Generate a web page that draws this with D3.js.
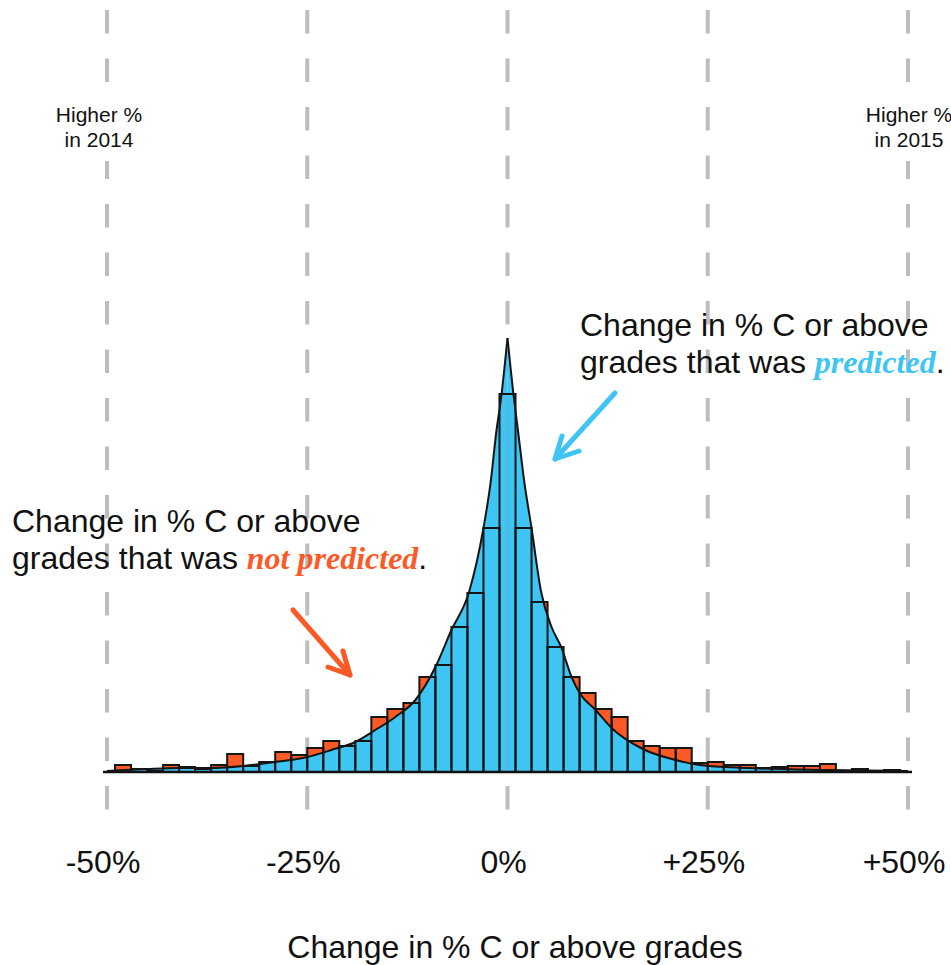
<!DOCTYPE html>
<html>
<head>
<meta charset="utf-8">
<script src="https://cdn.jsdelivr.net/npm/d3@7"></script>
<style>
  body { margin: 0; background: #fff; }
  svg { display: block; }
</style>
</head>
<body>
<script>
// bin centres (% change), 2-point wide bins
var binCenters = [-48,-46,-44,-42,-40,-38,-36,-34,-32,-30,-28,-26,-24,-22,-20,-18,-16,-14,-12,-10,
                  -8,-6,-4,-2,0,2,4,6,8,10,12,14,16,18,20,22,24,26,28,30,32,34,36,38,40,42,44,46,48];
// actual counts per bin
var actualCounts = [7,3,1,7,5,3,7,18,6,10,20,17,24,31,26,31,55,63,69,95,
                    107,145,179,244,378,244,170,125,95,79,63,55,31,26,24,24,9,10,7,7,4,5,6,6,8,1,3,0,2];
// predicted distribution (curve)
var curveX = [-50,-45,-41,-37,-33,-29,-25,-22,-19,-16.5,-14,-11.5,-9,-7,-4.8,-3,-2.1,-1.4,-0.8,0,
              0.8,1.3,2.1,3,4.2,5.5,6.7,8,9,11,13,16.9,21,24,30,40,50];
var curveY = [1,3,4,4,6,10,15,22,30,42,55,72,105,142,180,244,290,340,374,434,
              374,342,290,244,180,145,125,95,79,62,44,23,12,7,4,2,1];
var tickValues = [-50,-25,0,25,50];
var tickLabels = ["-50%","-25%","0%","+25%","+50%"];

var W = 951, H = 965;
var blue = "#3ec5f3", orange = "#fb5a27";
var sans = "'Liberation Sans', Arial, sans-serif";
var serif = "'Liberation Serif', 'Times New Roman', serif";

var svg = d3.select("body").append("svg")
    .attr("width", W).attr("height", H);

var x = d3.scaleLinear().domain([-50, 50]).range([107, 908]);
var y = d3.scaleLinear().domain([0, 450]).range([772, 322]);
var binW = 2;

// grey dashed guide lines
svg.selectAll(".guide")
  .data(tickValues)
  .enter()
  .append("line")
  .attr("class", "guide")
  .attr("x1", function(d){ return x(d); })
  .attr("x2", function(d){ return x(d); })
  .attr("y1", 10).attr("y2", 813)
  .attr("stroke", "#bdbdbd")
  .attr("stroke-width", 4)
  .attr("stroke-dasharray", "23.5,25");

// side notes
var notes = [{v: -50, dx: -8, t: ["Higher %", "in 2014"]}, {v: 50, dx: 1, t: ["Higher %", "in 2015"]}];
notes.forEach(function(n){
  svg.append("rect")
    .attr("x", x(n.v) + n.dx - 46).attr("y", 101)
    .attr("width", 92).attr("height", 60)
    .attr("fill", "#fff");
  n.t.forEach(function(s, i){
    svg.append("text")
      .attr("x", x(n.v) + n.dx).attr("y", 122 + i*25)
      .attr("text-anchor", "middle")
      .attr("font-family", sans).attr("font-size", 21)
      .attr("fill", "#111")
      .text(s);
  });
});

var g = svg.append("g");

// actual histogram (orange shows where it beats prediction)
g.selectAll(".bar")
  .data(actualCounts)
  .enter()
  .append("rect")
  .attr("class", "bar")
  .attr("x", function(d,i){ return x(binCenters[i] - binW/2); })
  .attr("y", function(d){ return y(d); })
  .attr("width", x(binW) - x(0))
  .attr("height", function(d){ return y(0) - y(d); })
  .attr("fill", orange);

// predicted area, two halves so the peak stays a cusp
var peak = curveX.indexOf(0);
var pts = curveX.map(function(v,i){ return [v, curveY[i]]; });
var halves = [pts.slice(0, peak + 1), pts.slice(peak)];

var area = d3.area()
  .x(function(d){ return x(d[0]); })
  .y0(y(0))
  .y1(function(d){ return y(d[1]); })
  .curve(d3.curveMonotoneX);
var line = d3.line()
  .x(function(d){ return x(d[0]); })
  .y(function(d){ return y(d[1]); })
  .curve(d3.curveMonotoneX);

halves.forEach(function(h){
  g.append("path").attr("d", area(h)).attr("fill", blue);
});

// bar outlines on top
g.selectAll(".outline")
  .data(actualCounts)
  .enter()
  .append("rect")
  .attr("class", "outline")
  .attr("x", function(d,i){ return x(binCenters[i] - binW/2); })
  .attr("y", function(d){ return y(d); })
  .attr("width", x(binW) - x(0))
  .attr("height", function(d){ return y(0) - y(d); })
  .attr("fill", "none")
  .attr("stroke", "#151515")
  .attr("stroke-width", 2);

halves.forEach(function(h){
  g.append("path").attr("d", line(h))
    .attr("fill", "none").attr("stroke", "#151515").attr("stroke-width", 2);
});

g.append("line")
  .attr("x1", x(-50.5)).attr("x2", x(50.5))
  .attr("y1", y(0)).attr("y2", y(0))
  .attr("stroke", "#111").attr("stroke-width", 2.5);

// tick labels
svg.selectAll(".tick")
  .data(tickValues)
  .enter()
  .append("text")
  .attr("class", "tick")
  .attr("x", function(d){ return x(d) - 4; })
  .attr("y", 873)
  .attr("text-anchor", "middle")
  .attr("font-family", sans).attr("font-size", 32)
  .attr("fill", "#111")
  .text(function(d,i){ return tickLabels[i]; });

svg.append("text")
  .attr("x", 515).attr("y", 958)
  .attr("text-anchor", "middle")
  .attr("font-family", sans).attr("font-size", 32)
  .attr("fill", "#111")
  .text("Change in % C or above grades");

// annotations
function annot(x0, y0, word, col){
  var t = svg.append("text")
    .attr("font-family", sans).attr("font-size", 32).attr("fill", "#111");
  t.append("tspan").attr("x", x0).attr("y", y0).text("Change in % C or above");
  t.append("tspan").attr("x", x0).attr("y", y0 + 37).text("grades that was ");
  t.append("tspan")
    .attr("font-family", serif).attr("font-weight", "bold").attr("font-style", "italic")
    .attr("fill", col).text(word);
  t.append("tspan").text(".");
}
annot(580, 336, "predicted", blue);
annot(12, 532, "not predicted", orange);

function arrow(pts, col){
  svg.append("path")
    .attr("d", d3.line()(pts))
    .attr("fill", "none").attr("stroke", col)
    .attr("stroke-width", 5).attr("stroke-linecap", "round").attr("stroke-linejoin", "round");
}
arrow([[615,393],[555,459]], blue);
arrow([[562,436],[555,459],[579,451]], blue);
arrow([[293,610],[350,675]], orange);
arrow([[343,651],[350,675],[328,667]], orange);
</script>
</body>
</html>
